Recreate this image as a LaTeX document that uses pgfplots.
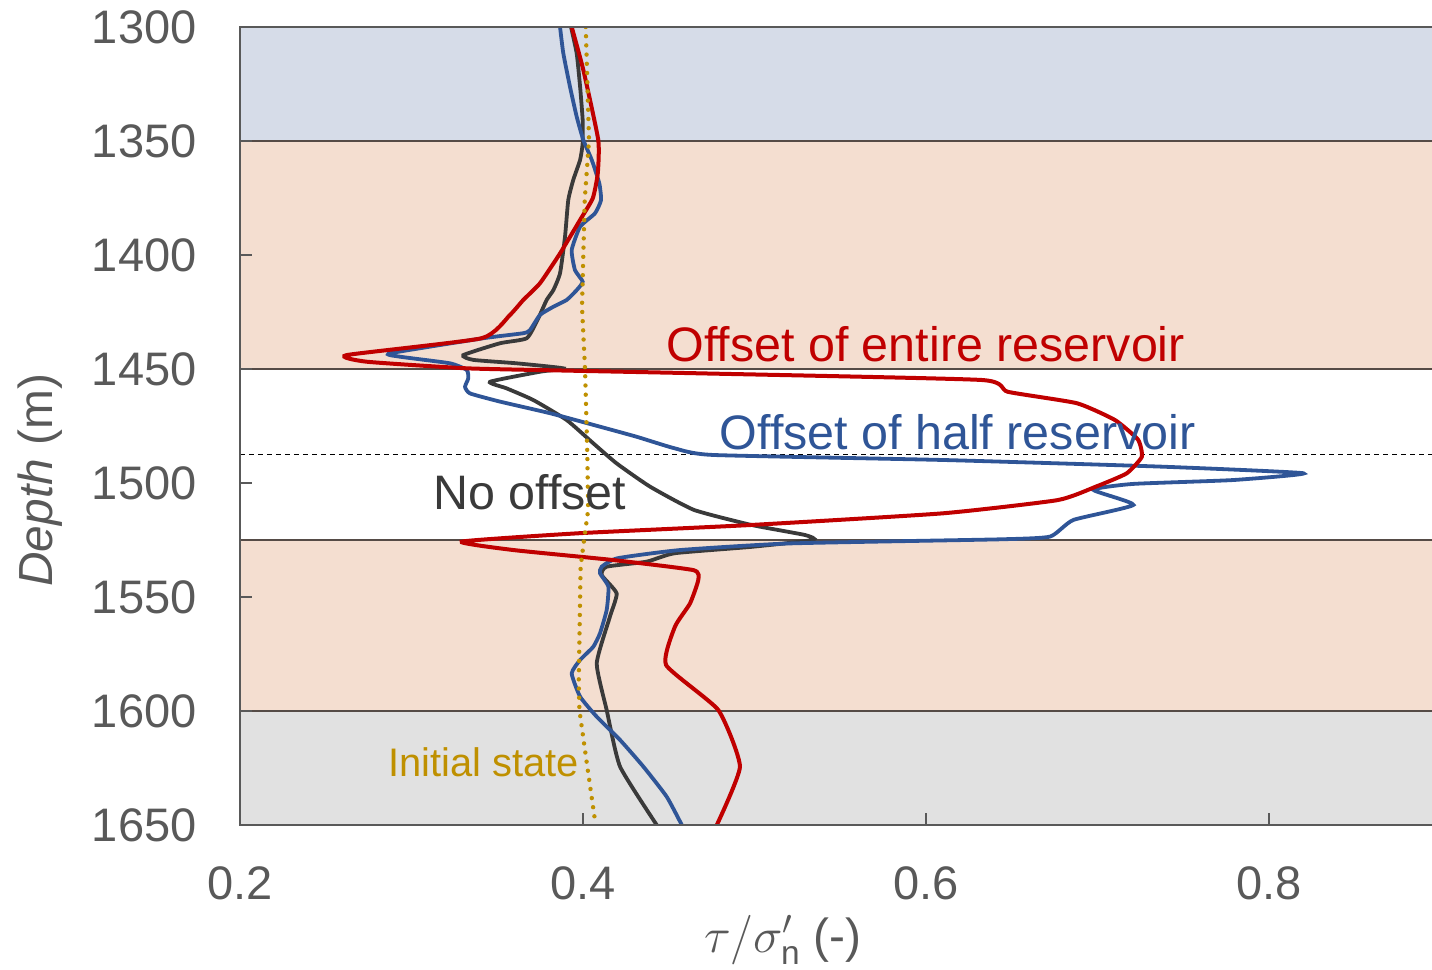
\documentclass[border=0pt]{standalone}
\usepackage{pgfplots}
\pgfplotsset{compat=1.18}
\usepackage{fontspec}
\setmainfont{Liberation Sans}
\definecolor{bandblue}{RGB}{214,220,232}
\definecolor{bandpeach}{RGB}{244,222,208}
\definecolor{bandgray}{RGB}{225,225,225}
\definecolor{bandline}{RGB}{85,75,70}
\definecolor{axgray}{RGB}{89,89,89}
\definecolor{cred}{RGB}{192,0,0}
\definecolor{cblue}{RGB}{47,85,151}
\definecolor{cblack}{RGB}{58,58,58}
\definecolor{cgold}{RGB}{191,144,0}
\begin{document}
\begin{tikzpicture}
\begin{axis}[
  scale only axis, width=596bp, height=399bp,
  xmin=0.2, xmax=0.895, ymin=1300, ymax=1650, y dir=reverse,
  axis line style={draw=none},
  xtick={0.2,0.4,0.6,0.8}, xticklabels={0.2,0.4,0.6,0.8},
  ytick={1300,1350,1400,1450,1500,1550,1600,1650},
  yticklabels={1300,1350,1400,1450,1500,1550,1600,1650},
  xtick pos=left, ytick pos=left,
  tick align=inside, major tick length=6bp,
  tick style={color=axgray, line width=0.75bp},
  xticklabel style={anchor=north, inner sep=0pt, yshift=-20.5bp, font=\fontsize{23.6}{28}\selectfont, text=axgray},
  yticklabel style={anchor=east, inner sep=0pt, xshift=-21.5bp, font=\fontsize{23.6}{28}\selectfont, text=axgray},
  xlabel={$\tau/\sigma'_{\mathrm{n}}$ (-)},
  xlabel style={at={(axis description cs:0.4555,-0.144)}, anchor=center, font=\fontsize{24}{29}\selectfont, text=axgray},
  ylabel={\textit{Depth} (m)},
  ylabel style={at={(axis description cs:-0.1678,0.432)}, anchor=center, font=\fontsize{24}{29}\selectfont, text=axgray},
  axis on top,
]
\fill[bandblue] (axis cs:0.2,1300) rectangle (axis cs:0.9,1350);
\fill[bandpeach] (axis cs:0.2,1350) rectangle (axis cs:0.9,1450);
\fill[bandpeach] (axis cs:0.2,1525) rectangle (axis cs:0.9,1600);
\fill[bandgray] (axis cs:0.2,1600) rectangle (axis cs:0.9,1650);
\draw[bandline, line width=1bp] (axis cs:0.2,1350) -- (axis cs:0.9,1350);
\draw[bandline, line width=1bp] (axis cs:0.2,1450) -- (axis cs:0.9,1450);
\draw[bandline, line width=1bp] (axis cs:0.2,1525) -- (axis cs:0.9,1525);
\draw[bandline, line width=1bp] (axis cs:0.2,1600) -- (axis cs:0.9,1600);
\draw[black, line width=0.6bp, dash pattern=on 2.5bp off 2bp] (axis cs:0.2,1487.4) -- (axis cs:0.9,1487.4);

% No offset
\addplot[cblack, line width=1.9bp, smooth, tension=0.3] coordinates {
(0.3930,1300) (0.3963,1311.5) (0.3983,1326.2) (0.3998,1340.8) (0.3998,1351)
(0.3983,1358.3) (0.3943,1367.1) (0.3914,1375.9) (0.3895,1392) (0.3866,1408)
(0.3827,1415.4) (0.3788,1419.7) (0.3739,1427.8) (0.3672,1436.5) (0.3516,1438.7)
(0.3302,1443.9) (0.3360,1446) (0.3613,1447.5) (0.3885,1449.7) (0.3749,1451.2)
(0.3458,1455.6) (0.3555,1458.5) (0.3710,1463.6) (0.3905,1472.4) (0.4060,1482.6)
(0.4196,1491.4) (0.4391,1501.6) (0.4647,1511.8) (0.4982,1518.4) (0.5294,1522.8)
(0.5341,1525) (0.4982,1528) (0.4535,1530.8) (0.4371,1534.5) (0.4138,1536.7)
(0.4109,1540.4) (0.4196,1548.4) (0.4157,1558.6) (0.4080,1579.1) (0.4138,1599.6)
(0.4216,1624.4) (0.4430,1650)
};
% Offset of half reservoir
\addplot[cblue, line width=1.9bp, smooth, tension=0.3] coordinates {
(0.3866,1300) (0.3885,1311.5) (0.3924,1326.2) (0.3963,1339.3) (0.4002,1349.6)
(0.4051,1358.3) (0.4095,1368.6) (0.4105,1375.9) (0.4070,1381.7) (0.3983,1387.6)
(0.3934,1397.8) (0.3953,1406.6) (0.3998,1411.7) (0.3963,1415.4) (0.3905,1419.7)
(0.3827,1422.7) (0.3749,1426.3) (0.3691,1432.9) (0.3652,1434.3) (0.3419,1436.5)
(0.2875,1443.1) (0.2933,1444.6) (0.3224,1447.5) (0.3322,1450.4) (0.3331,1454.1)
(0.3312,1457.8) (0.3341,1460.7) (0.3516,1464.3) (0.3808,1469.4) (0.4099,1475.3)
(0.4312,1479.7) (0.4535,1484.8) (0.4758,1487.7) (0.6097,1489.9) (0.7364,1492.8)
(0.8200,1495.7) (0.7790,1498.7) (0.7207,1500.4) (0.6975,1503) (0.7209,1509.6)
(0.6859,1516.2) (0.6723,1523.5) (0.6431,1524.7) (0.5205,1526.5) (0.4566,1529.4)
(0.4201,1533) (0.4109,1536.7) (0.4099,1539.6) (0.4148,1545.5) (0.4138,1555.7)
(0.4099,1565.9) (0.4060,1571.8) (0.3983,1577.6) (0.3934,1583.5) (0.3983,1593.7)
(0.4080,1602.5) (0.4216,1612.7) (0.4352,1624.4) (0.4488,1637.6) (0.4576,1650)
};
% Offset of entire reservoir
\addplot[cred, line width=2bp, smooth, tension=0.3] coordinates {
(0.3934,1300) (0.4002,1318.9) (0.4089,1349.6) (0.4086,1364.2) (0.4057,1375.1)
(0.3983,1384.6) (0.3866,1399.3) (0.3749,1412.4) (0.3652,1419.7) (0.3574,1426.3)
(0.3409,1436.5) (0.2622,1443.9) (0.2739,1446.8) (0.3322,1449.7) (0.3905,1450.7)
(0.4682,1451.9) (0.6321,1454.8) (0.6477,1460) (0.6879,1465) (0.7102,1472.4)
(0.7236,1481) (0.7258,1488.5) (0.7169,1495.8) (0.6990,1501.6) (0.6767,1507.5)
(0.6097,1513.3) (0.4982,1518.4) (0.3983,1522) (0.3293,1525.7) (0.3594,1529.4)
(0.4177,1533.8) (0.4643,1538.2) (0.4672,1542.5) (0.4624,1552.8) (0.4536,1563)
(0.4484,1579.8) (0.4789,1599.6) (0.4915,1624.4) (0.4780,1650)
};
% Initial state
\addplot[cgold, line width=2.2bp, line cap=round, dash pattern=on 0pt off 4.6bp] coordinates {
(0.4016,1300) (0.4035,1349.6) (0.4010,1375.9) (0.3994,1422.7) (0.4012,1450.4)
(0.4025,1487.3) (0.4030,1511.8) (0.4006,1525) (0.3986,1536.7) (0.3975,1587.7)
(0.3979,1599.6) (0.4022,1622.8) (0.4066,1646) (0.4076,1650)
};

\node[anchor=base west, inner sep=0pt, text=cred, font=\fontsize{24.3}{29}\selectfont] at (axis cs:0.4484,1446.9) {Offset of entire reservoir};
\node[anchor=base west, inner sep=0pt, text=cblue, font=\fontsize{24.3}{29}\selectfont] at (axis cs:0.4795,1485.5) {Offset of half reservoir};
\node[anchor=base west, inner sep=0pt, text=cblack, font=\fontsize{24.3}{29}\selectfont] at (axis cs:0.3125,1511.8) {No offset};
\node[anchor=base west, inner sep=0pt, text=cgold, font=\fontsize{20}{24}\selectfont] at (axis cs:0.2863,1628.9) {Initial state};
\end{axis}
\draw[axgray, line width=1.25bp] (current axis.north east) -- (current axis.north west) -- (current axis.south west) -- (current axis.south east);
\pgfresetboundingbox
\path[use as bounding box] ([shift={(-120bp,-72.5bp)}]current axis.south west) rectangle ([shift={(0bp,13.5bp)}]current axis.north east);
\end{tikzpicture}
\end{document}
